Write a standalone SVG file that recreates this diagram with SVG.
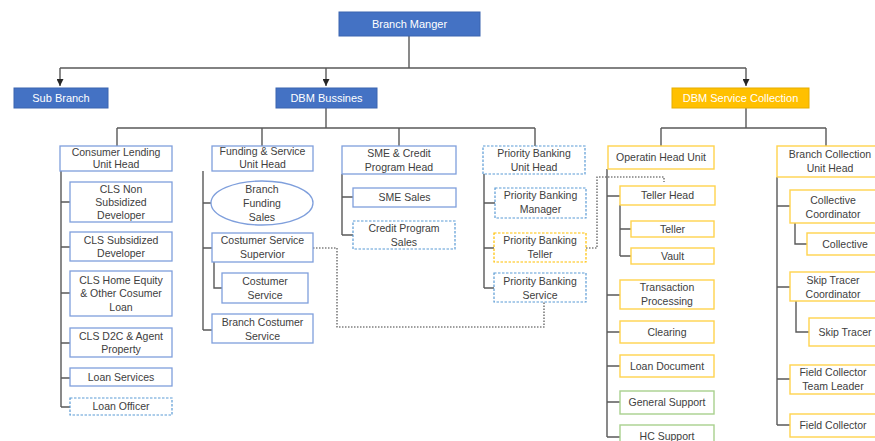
<svg xmlns="http://www.w3.org/2000/svg" width="875" height="441" viewBox="0 0 875 441">
<defs>
<marker id="arr" markerWidth="8" markerHeight="8" refX="4" refY="6" orient="auto" markerUnits="userSpaceOnUse">
<path d="M0,0 L8,0 L4,6 Z" fill="#262626" transform="rotate(-90 4 4)"/>
</marker>
<marker id="ah" viewBox="0 0 8 8" markerWidth="7" markerHeight="7" refX="8" refY="4" orient="auto" markerUnits="userSpaceOnUse">
<path d="M0,0 L8,4 L0,8 Z" fill="#262626"/>
</marker>
<style>
text{font-family:"Liberation Sans",Arial,sans-serif;font-size:10.5px;fill:#404040;text-anchor:middle}
.top text{fill:#ffffff;font-size:11px}
.blue{fill:#4472C4;stroke:#3a64b0;stroke-width:1}
.gold{fill:#FFC000;stroke:#e6ad00;stroke-width:1}
.bx{fill:#ffffff;stroke:#7f9fdc;stroke-width:1.3}
.dsh{fill:#ffffff;stroke:#5B9BD5;stroke-width:1.2;stroke-dasharray:2.5 1.5}
.ydsh{fill:#ffffff;stroke:#FFC000;stroke-width:1.2;stroke-dasharray:2.5 1.5}
.yb{fill:#ffffff;stroke:#FFD34D;stroke-width:1.4}
.gb{fill:#ffffff;stroke:#A9D18E;stroke-width:1.4}
.ln{fill:none;stroke:#595959;stroke-width:1.4}
.dot{fill:none;stroke:#404040;stroke-width:1.1;stroke-dasharray:1.5 1.5}
</style>
</defs>
<rect width="875" height="441" fill="#ffffff"/>

<g id="connectors">
<path class="ln" d="M409,36 V68 M60,68 H746"/>
<path class="ln" d="M60,68 V86" marker-end="url(#ah)"/>
<path class="ln" d="M326,68 V86" marker-end="url(#ah)"/>
<path class="ln" d="M746,68 V86" marker-end="url(#ah)"/>
<path class="ln" d="M326,108 V128 M117,128 H535 M117,128 V146 M262,128 V146 M399,128 V146 M535,128 V146"/>
<path class="ln" d="M746,108 V128 M661,128 H826 M661,128 V146 M826,128 V146"/>
<path class="ln" d="M61,171 V407 M61,202 H70 M61,247 H70 M61,293 H70 M61,343 H70 M61,378 H70 M61,407 H70"/>
<path class="ln" d="M203,171 V330 M203,203 H211 M203,248 H212 M203,330 H212 M214,262 V288 H222"/>
<path class="ln" d="M342,174 V235 M342,197 H353 M342,235 H353"/>
<path class="ln" d="M484,174 V288 M484,203 H495 M484,248 H494 M484,288 H494"/>
<path class="ln" d="M607,169 V437 M607,196 H620 M620,205 V256 M620,229 H631 M620,256 H631 M607,295 H620 M607,332 H620 M607,366 H620 M607,402 H620 M607,437 H620"/>
<path class="ln" d="M777,177 V425 M777,206 H790 M795,223 V244 H807 M777,287 H790 M796,301 V332 H809 M777,379 H790 M777,425 H790"/>
<path class="dot" d="M313,248 H337 V327 H544 V302"/>
<path class="dot" d="M586,248 H597 V177 H664 V182"/>
</g>

<g id="n-branch-manager" class="top"><rect class="blue" x="339" y="12" width="141" height="24"/><text x="409.5" y="28">Branch Manger</text></g>
<g id="n-sub-branch" class="top"><rect class="blue" x="14" y="88" width="94" height="20"/><text x="61" y="102">Sub Branch</text></g>
<g id="n-dbm-bussines" class="top"><rect class="blue" x="276" y="88" width="101" height="20"/><text x="326.5" y="102">DBM Bussines</text></g>
<g id="n-dbm-service" class="top"><rect class="gold" x="672" y="88" width="137" height="20"/><text x="740.5" y="102">DBM Service Collection</text></g>

<g id="n-consumer-lending"><rect class="bx" x="60" y="146" width="112" height="25"/><text x="116" y="156">Consumer Lending</text><text x="116" y="168">Unit Head</text></g>
<g id="n-cls-non"><rect class="bx" x="70" y="182" width="102" height="40"/><text x="121" y="193">CLS Non</text><text x="121" y="206">Subsidized</text><text x="121" y="219">Developer</text></g>
<g id="n-cls-sub"><rect class="bx" x="70" y="232" width="102" height="29"/><text x="121" y="244">CLS Subsidized</text><text x="121" y="257">Developer</text></g>
<g id="n-cls-home"><rect class="bx" x="70" y="271" width="102" height="45"/><text x="121" y="284">CLS Home Equity</text><text x="121" y="297">&amp; Other Cosumer</text><text x="121" y="311">Loan</text></g>
<g id="n-cls-d2c"><rect class="bx" x="70" y="328" width="102" height="29"/><text x="121" y="340">CLS D2C &amp; Agent</text><text x="121" y="353">Property</text></g>
<g id="n-loan-services"><rect class="bx" x="70" y="368" width="102" height="18"/><text x="121" y="381">Loan Services</text></g>
<g id="n-loan-officer"><rect class="dsh" x="70" y="398" width="102" height="17"/><text x="121" y="410">Loan Officer</text></g>

<g id="n-funding"><rect class="bx" x="212" y="146" width="101" height="25"/><text x="262.5" y="155">Funding &amp; Service</text><text x="262.5" y="168">Unit Head</text></g>
<g id="n-branch-funding"><ellipse class="bx" cx="262" cy="203" rx="51" ry="22"/><text x="262" y="193">Branch</text><text x="262" y="207">Funding</text><text x="262" y="221">Sales</text></g>
<g id="n-cs-supervisor"><rect class="bx" x="212" y="233" width="101" height="29"/><text x="262.5" y="244">Costumer Service</text><text x="262.5" y="258">Supervior</text></g>
<g id="n-cs"><rect class="bx" x="222" y="273" width="86" height="30"/><text x="265" y="285">Costumer</text><text x="265" y="299">Service</text></g>
<g id="n-branch-cs"><rect class="bx" x="212" y="314" width="101" height="29"/><text x="262.5" y="326">Branch Costumer</text><text x="262.5" y="340">Service</text></g>

<g id="n-sme-head"><rect class="bx" x="342" y="146" width="114" height="28"/><text x="399" y="157">SME &amp; Credit</text><text x="399" y="171">Program Head</text></g>
<g id="n-sme-sales"><rect class="bx" x="353" y="188" width="103" height="19"/><text x="404.5" y="201">SME Sales</text></g>
<g id="n-credit-sales"><rect class="dsh" x="353" y="221" width="102" height="28"/><text x="404" y="232">Credit Program</text><text x="404" y="246">Sales</text></g>

<g id="n-pb-head"><rect class="dsh" x="483" y="146" width="102" height="28"/><text x="534" y="157">Priority Banking</text><text x="534" y="171">Unit Head</text></g>
<g id="n-pb-manager"><rect class="dsh" x="495" y="188" width="91" height="30"/><text x="540.5" y="199">Priority Banking</text><text x="540.5" y="213">Manager</text></g>
<g id="n-pb-teller"><rect class="ydsh" x="494" y="233" width="92" height="29"/><text x="540" y="244">Priority Banking</text><text x="540" y="258">Teller</text></g>
<g id="n-pb-service"><rect class="dsh" x="494" y="273" width="92" height="29"/><text x="540" y="285">Priority Banking</text><text x="540" y="299">Service</text></g>

<g id="n-op-head"><rect class="yb" x="608" y="146" width="106" height="23"/><text x="661" y="161">Operatin Head Unit</text></g>
<g id="n-teller-head"><rect class="yb" x="620" y="186" width="95" height="19"/><text x="667.5" y="199">Teller Head</text></g>
<g id="n-teller"><rect class="yb" x="631" y="221" width="83" height="16"/><text x="672.5" y="233">Teller</text></g>
<g id="n-vault"><rect class="yb" x="631" y="248" width="83" height="16"/><text x="672.5" y="260">Vault</text></g>
<g id="n-transaction"><rect class="yb" x="620" y="280" width="94" height="29"/><text x="667" y="291">Transaction</text><text x="667" y="305">Processing</text></g>
<g id="n-clearing"><rect class="yb" x="620" y="321" width="94" height="22"/><text x="667" y="336">Clearing</text></g>
<g id="n-loan-doc"><rect class="yb" x="620" y="355" width="94" height="22"/><text x="667" y="370">Loan Document</text></g>
<g id="n-general"><rect class="gb" x="620" y="391" width="94" height="23"/><text x="667" y="406">General Support</text></g>
<g id="n-hc"><rect class="gb" x="620" y="425" width="94" height="22"/><text x="667" y="440">HC Support</text></g>

<g id="n-bc-head"><rect class="yb" x="777" y="146" width="104" height="31"/><text x="830" y="158">Branch Collection</text><text x="830" y="172">Unit Head</text></g>
<g id="n-coll-coord"><rect class="yb" x="790" y="190" width="91" height="33"/><text x="833" y="204">Collective</text><text x="833" y="218">Coordinator</text></g>
<g id="n-collective"><rect class="yb" x="807" y="233" width="74" height="22"/><text x="845" y="248">Collective</text></g>
<g id="n-skip-coord"><rect class="yb" x="790" y="272" width="91" height="29"/><text x="833" y="284">Skip Tracer</text><text x="833" y="298">Coordinator</text></g>
<g id="n-skip"><rect class="yb" x="809" y="318" width="72" height="28"/><text x="845" y="336">Skip Tracer</text></g>
<g id="n-field-leader"><rect class="yb" x="790" y="365" width="91" height="29"/><text x="833" y="376">Field Collector</text><text x="833" y="390">Team Leader</text></g>
<g id="n-field"><rect class="yb" x="790" y="414" width="91" height="23"/><text x="833" y="429">Field Collector</text></g>
</svg>
